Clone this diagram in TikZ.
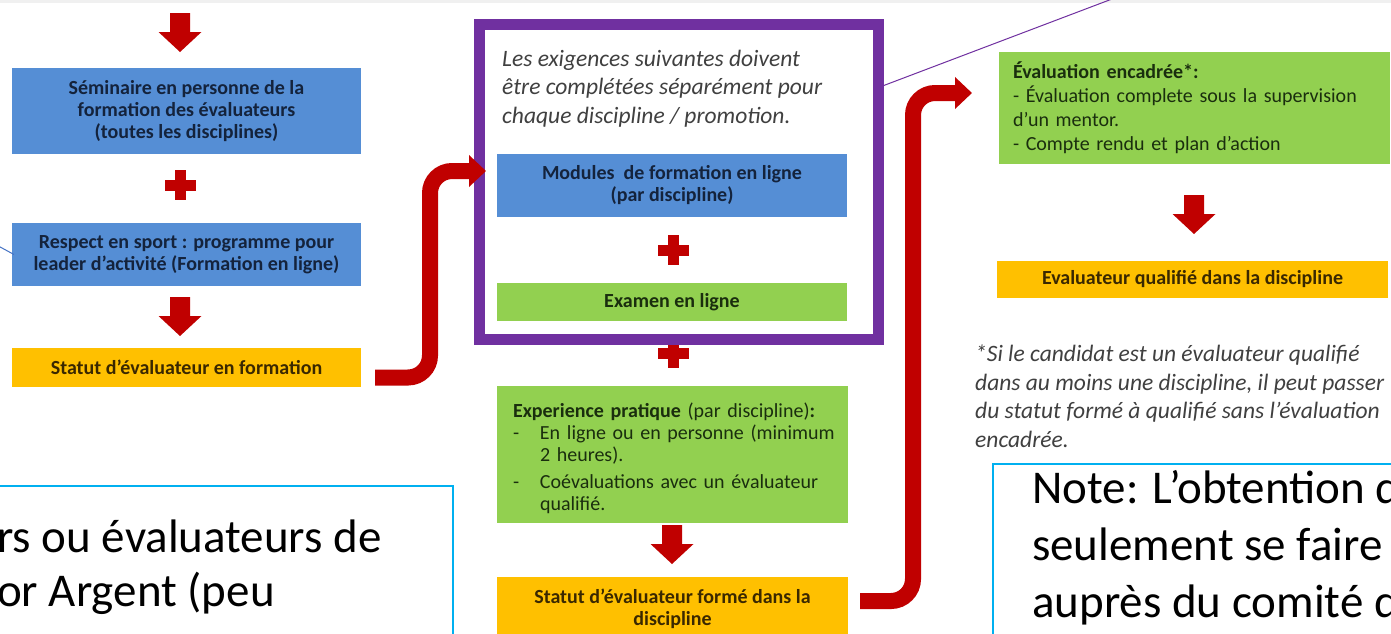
\documentclass[tikz,border=0pt]{standalone}
\usepackage{fontspec}
\setmainfont{Carlito}
\usetikzlibrary{arrows.meta,calc}
\definecolor{redc}{HTML}{C00000}
\definecolor{bluebox}{HTML}{558ED5}
\definecolor{greenbox}{HTML}{92D050}
\definecolor{yellowbox}{HTML}{FFC000}
\definecolor{purp}{HTML}{7030A0}
\definecolor{cyanline}{HTML}{00B0F0}
\definecolor{thinblue}{HTML}{4472C4}
\definecolor{bluetext}{HTML}{14233C}
\definecolor{greentext}{HTML}{1A2E0E}
\definecolor{yellowtext}{HTML}{3A2800}
\definecolor{greytext}{HTML}{404040}
\begin{document}
\begin{tikzpicture}[x=1pt,y=-1pt,
  box/.style={inner sep=0pt, outer sep=0pt, align=center,
    font=\fontsize{20}{22}\selectfont\bfseries},
  bluestyle/.style={box, fill=bluebox, text=bluetext},
  greenstyle/.style={box, fill=greenbox, text=greentext},
  yellowstyle/.style={box, fill=yellowbox, text=yellowtext},
  italicnote/.style={inner sep=0pt, anchor=base west, align=left, text=greytext,
    font=\fontsize{23.5}{28.5}\selectfont\itshape},
  bignote/.style={inner sep=0pt, anchor=base west, align=left, text=black,
    font=\fontsize{47}{56}\selectfont},
  callout/.style={draw=cyanline, line width=2pt},
  conn/.style={draw=redc, line width=16pt, rounded corners=22pt,
    -{Triangle[width=31pt,length=17pt]}},
  downarr/.pic={\fill[redc] (-10,0) -- (10,0) -- (10,19) -- (21.5,19) -- (0,39)
    -- (-21.5,19) -- (-10,19) -- cycle;},
  plussign/.pic={\fill[redc] (-15.5,-5.5) rectangle (15.5,5.5);
    \fill[redc] (-5.5,-15) rectangle (5.5,15);}
]
\useasboundingbox (0,0) rectangle (1391,633);
\clip (0,0) rectangle (1391,633);
\fill[white] (0,0) rectangle (1391,633);
\fill[gray!12] (0,0) rectangle (1391,3);

% left column
\pic at (180,13) {downarr};
\node[bluestyle, minimum width=349pt, minimum height=86pt] (sem) at (186.5,111)
  {Séminaire en personne de la\\formation des évaluateurs\\(toutes les disciplines)};
\pic at (180,185) {plussign};
\node[bluestyle, minimum width=349pt, minimum height=63pt] (resp) at (186.5,254.5)
  {Respect en sport : programme pour\\leader d’activité (Formation en ligne)};
\pic at (180,297) {downarr};
\node[yellowstyle, minimum width=349pt, minimum height=39pt] (stat1) at (186.5,367.5)
  {Statut d’évaluateur en formation};

% middle column
\pic at (673,353) {plussign};
\node[draw=purp, line width=11pt, inner sep=0pt, outer sep=0pt,
  minimum width=399pt, minimum height=315pt] (purple) at (679,182) {};
\node[italicnote] (intro) at (502,123)
  {Les exigences suivantes doivent\\être complétées séparément pour\\chaque discipline / promotion.};
\node[bluestyle, minimum width=350pt, minimum height=63pt] (mods) at (672,185.5)
  {Modules\ \ de formation en ligne\\(par discipline)};
\pic at (673,250) {plussign};
\node[greenstyle, minimum width=350pt, minimum height=38pt] (exam) at (672,302)
  {Examen en ligne};
\node[greenstyle, minimum width=351pt, minimum height=137pt, align=left,
  text width=319pt, inner xsep=16pt, font=\fontsize{20}{22}\selectfont] (exp) at (672.5,454.5)
  {\mbox{\rule{0pt}{23pt}\textbf{Experience pratique} (par discipline)\textbf{:}}\\
   \mbox{\makebox[27pt][l]{-}En ligne ou en personne (minimum}\\
   \mbox{\hspace*{27pt}2 heures).}\\[5pt]
   \mbox{\makebox[27pt][l]{-}Coévaluations avec un évaluateur}\\
   \mbox{\hspace*{27pt}qualifié.}};
\pic at (672,525) {downarr};
\node[yellowstyle, minimum width=351pt, minimum height=64pt] (stat2) at (672.5,609)
  {Statut d’évaluateur formé dans la\\discipline};

% right column
\node[greenstyle, minimum width=391pt, minimum height=112pt, align=left,
  text width=363pt, inner xsep=14pt, font=\fontsize{20}{24}\selectfont] (enc) at (1194.5,108)
  {\mbox{\textbf{Évaluation encadrée*:}}\\
   \mbox{- Évaluation complete sous la supervision}\\
   \mbox{d’un mentor.}\\
   \mbox{- Compte rendu et plan d’action}};
\pic at (1194,195) {downarr};
\node[yellowstyle, minimum width=391pt, minimum height=37pt] (qual) at (1192.5,279.5)
  {Evaluateur qualifié dans la discipline};
\node[italicnote] (foot) at (975,447)
  {*Si le candidat est un évaluateur qualifié\\dans au moins une discipline, il peut passer\\du statut formé à qualifié sans l’évaluation\\encadrée.};

% connectors
\coordinate (k1) at (430,171);
\draw[conn] ([xshift=14pt,yshift=-10pt]stat1.east) -| (k1) -- ([xshift=6.5pt]k1 -| purple.west);
\coordinate (k2) at (913,93);
\draw[conn] ([xshift=12pt,yshift=8pt]stat2.east) -| (k2) -- ([xshift=-27pt]k2 -| enc.west);

% thin callout lines
\coordinate (pt) at (1112,-1);
\draw[purp, line width=1pt] ($(purple.north east)!0.2!(purple.south east)$) -- (pt);
\coordinate (bt) at (-10,241.5);
\draw[thinblue, line width=1pt] ([xshift=2pt]resp.west) -- (bt);

% callout boxes
\draw[callout] (-10,486) rectangle (453,660);
\node[bignote, font=\fontsize{47}{54}\selectfont] (callL) at (-3,606) {rs ou évaluateurs de\\or Argent (peu};
\draw[callout] (993,464) rectangle (1410,660);
\node[bignote, font=\fontsize{47}{57}\selectfont] (callR) at (1032,617)
  {Note: L’obtention d\\seulement se faire\\auprès du comité d};
\end{tikzpicture}
\end{document}
